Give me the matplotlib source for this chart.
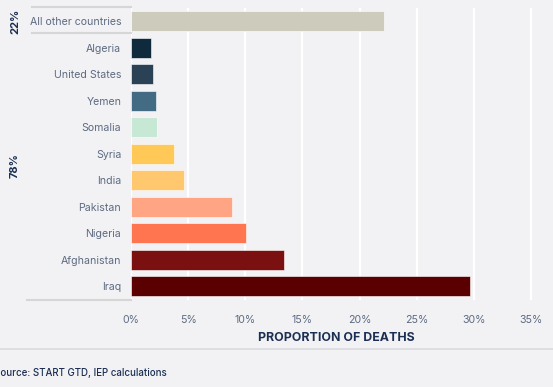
import matplotlib
matplotlib.use("Agg")
import matplotlib.pyplot as plt
from matplotlib.lines import Line2D

# data, bottom to top
countries = ["Iraq", "Afghanistan", "Nigeria", "Pakistan", "India", "Syria",
             "Somalia", "Yemen", "United States", "Algeria", "All other countries"]
shares = [29.7, 13.4, 10.1, 8.8, 4.65, 3.8, 2.25, 2.2, 1.9, 1.75, 22.1]
bar_colors = ["#5a0000", "#7a1010", "#ff7550", "#ffa584", "#ffc76e", "#ffc857",
              "#c6e8d4", "#446b84", "#2b4256", "#0f2a3c", "#cdcbbb"]
x_ticks = [0, 5, 10, 15, 20, 25, 30, 35]
x_tick_labels = ["0%", "5%", "10%", "15%", "20%", "25%", "30%", "35%"]

plt.rcParams["font.family"] = ["Inter", "DejaVu Sans"]
BG = "#f2f2f5"
NAVY = "#1b2f52"
GREY = "#5d6b80"

W, H = 553, 387
fig = plt.figure(figsize=(W / 100, H / 100), dpi=100, facecolor=BG)
ax = fig.add_axes([131 / W, 1 - 299.5 / H, (542.5 - 131) / W, 291.5 / H])
ax.set_facecolor(BG)

y = range(len(countries))
ax.barh(y, shares, height=0.76, color=bar_colors, edgecolor="white",
        linewidth=0.4, zorder=3)

ax.set_xlim(0, 36)
ax.set_ylim(-0.5, len(countries) - 0.5)
ax.set_xticks(x_ticks)
ax.set_xticklabels(x_tick_labels, color=GREY, fontsize=7.6)
ax.set_yticks(list(y))
ax.set_yticklabels(countries, color=GREY, fontsize=7.6)
ax.tick_params(length=0, pad=7)
ax.tick_params(axis="x", pad=11)
ax.grid(True, axis="x", color="white", linewidth=1.6, zorder=0)
for s in ax.spines.values():
    s.set_visible(False)

ax.set_xlabel("PROPORTION OF DEATHS", color=NAVY, fontsize=8.9,
              fontweight="bold", labelpad=5)

# group labels on the left
fig.text(15 / W, 1 - 21 / H, "22%", rotation=90, color=NAVY, fontsize=8,
         fontweight="bold", ha="center", va="center")
fig.text(15 / W, 1 - 166 / H, "78%", rotation=90, color=NAVY, fontsize=8,
         fontweight="bold", ha="center", va="center")

# bracket lines around the label column
line_col = "#d6d6d6"
for yy, x0 in [(7, 32), (33, 32), (299.5, 27)]:
    fig.add_artist(Line2D([x0 / W, 131 / W], [1 - yy / H, 1 - yy / H],
                          color=line_col, linewidth=1.5))
fig.add_artist(Line2D([0, 1], [1 - 349 / H, 1 - 349 / H],
                      color="#d9dadf", linewidth=1.2))

fig.text(-6 / W, 1 - 373 / H, "Source: START GTD, IEP calculations",
         color=NAVY, fontsize=7, fontweight="medium", va="center", ha="left")

fig.savefig("out.png", dpi=100, facecolor=BG)
